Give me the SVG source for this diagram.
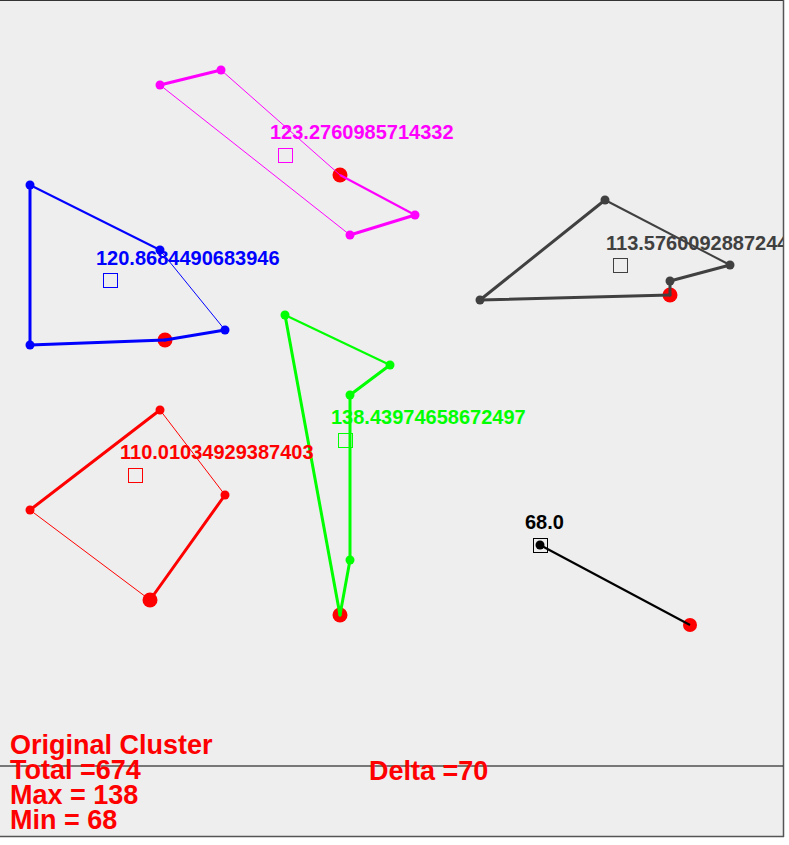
<svg xmlns="http://www.w3.org/2000/svg" width="789" height="845" viewBox="0 0 789 845">
<style>
.lbl{font-family:"Liberation Sans",Arial,sans-serif;font-weight:bold;font-size:20px}
.big{font-family:"Liberation Sans",Arial,sans-serif;font-weight:bold;font-size:27px;fill:#FF0000}
.t1{stroke-width:1;fill:none}
.t2{stroke-width:2;fill:none}
.t3{stroke-width:3;fill:none;stroke-linecap:round}
.sq{fill:none;stroke-width:1}
.hub{fill:#FF0000}
</style>
<defs>
<clipPath id="panel"><rect x="0" y="0" width="783" height="836"/></clipPath>
</defs>
<rect x="0" y="0" width="789" height="845" fill="#FFFFFF"/>
<rect x="0" y="0" width="783" height="836" fill="#EEEEEE"/>
<line x1="0" y1="0.5" x2="784" y2="0.5" stroke="#333333" stroke-width="1"/>
<line x1="783.5" y1="0" x2="783.5" y2="837" stroke="#555555" stroke-width="1.5"/>
<line x1="0" y1="836.5" x2="784" y2="836.5" stroke="#555555" stroke-width="1.5"/>
<line x1="0" y1="766" x2="783" y2="766" stroke="#000000" stroke-width="1"/>

<g clip-path="url(#panel)">
<g id="hubs">
<circle class="hub" cx="340" cy="175" r="7.5"/>
<circle class="hub" cx="165" cy="340" r="7.5"/>
<circle class="hub" cx="670" cy="295" r="7.5"/>
<circle class="hub" cx="340" cy="615" r="7.5"/>
<circle class="hub" cx="150" cy="600" r="7.5"/>
<circle class="hub" cx="690" cy="625" r="7"/>
</g>

<g id="connectors">
<g stroke="#FF00FF">
<line class="t3" x1="160" y1="85" x2="221" y2="70"/>
<line class="t1" x1="221" y1="70" x2="340" y2="175"/>
<line class="t2" x1="340" y1="175" x2="415" y2="215"/>
<line class="t3" x1="415" y1="215" x2="350" y2="235"/>
<line class="t1" x1="350" y1="235" x2="160" y2="85"/>
</g>
<g stroke="#0000FF">
<line class="t3" x1="30" y1="185" x2="30" y2="345"/>
<line class="t3" x1="30" y1="345" x2="165" y2="340"/>
<line class="t3" x1="165" y1="340" x2="225" y2="330"/>
<line class="t1" x1="225" y1="330" x2="160" y2="250"/>
<line class="t2" x1="160" y1="250" x2="30" y2="185"/>
</g>
<g stroke="#404040">
<line class="t3" x1="480" y1="300" x2="605" y2="200"/>
<line class="t2" x1="605" y1="200" x2="730" y2="265"/>
<line class="t3" x1="730" y1="265" x2="670" y2="281"/>
<line class="t3" x1="670" y1="281" x2="670" y2="295"/>
<line class="t3" x1="670" y1="295" x2="480" y2="300"/>
</g>
<g stroke="#00FF00">
<line class="t2" x1="285" y1="315" x2="390" y2="365"/>
<line class="t3" x1="390" y1="365" x2="350" y2="395"/>
<line class="t3" x1="350" y1="395" x2="350" y2="560"/>
<line class="t3" x1="350" y1="560" x2="340" y2="615"/>
<line class="t3" x1="340" y1="615" x2="285" y2="315"/>
</g>
<g stroke="#FF0000">
<line class="t3" x1="30" y1="510" x2="160" y2="410"/>
<line class="t1" x1="160" y1="410" x2="225" y2="495"/>
<line class="t3" x1="225" y1="495" x2="150" y2="600"/>
<line class="t1" x1="150" y1="600" x2="30" y2="510"/>
</g>
<g stroke="#000000">
<line class="t2" x1="540" y1="545" x2="690" y2="625"/>
</g>
</g>

<g id="cluster-magenta" fill="#FF00FF">
<circle cx="160" cy="85" r="4.5"/>
<circle cx="221" cy="70" r="4.5"/>
<circle cx="415" cy="215" r="4.5"/>
<circle cx="350" cy="235" r="4.5"/>
<rect class="sq" x="278.5" y="148.5" width="14" height="14" stroke="#FF00FF"/>
<text class="lbl" x="270" y="139">123.2760985714332</text>
</g>
<g id="cluster-blue" fill="#0000FF">
<circle cx="30" cy="185" r="4.5"/>
<circle cx="160" cy="250" r="4.5"/>
<circle cx="225" cy="330" r="4.5"/>
<circle cx="30" cy="345" r="4.5"/>
<rect class="sq" x="103.5" y="273.5" width="14" height="14" stroke="#0000FF"/>
<text class="lbl" x="96" y="265">120.8684490683946</text>
</g>
<g id="cluster-gray" fill="#404040">
<circle cx="605" cy="200" r="4.5"/>
<circle cx="730" cy="265" r="4.5"/>
<circle cx="670" cy="281" r="4.5"/>
<circle cx="480" cy="300" r="4.5"/>
<rect class="sq" x="613.5" y="258.5" width="14" height="14" stroke="#404040"/>
<text class="lbl" x="606" y="250">113.5760092887244</text>
</g>
<g id="cluster-green" fill="#00FF00">
<circle cx="285" cy="315" r="4.5"/>
<circle cx="390" cy="365" r="4.5"/>
<circle cx="350" cy="395" r="4.5"/>
<circle cx="350" cy="560" r="4.5"/>
<rect class="sq" x="338.5" y="433.5" width="14" height="14" stroke="#00FF00"/>
<text class="lbl" x="331" y="424">138.43974658672497</text>
</g>
<g id="cluster-red" fill="#FF0000">
<circle cx="160" cy="410" r="4.5"/>
<circle cx="225" cy="495" r="4.5"/>
<circle cx="30" cy="510" r="4.5"/>
<rect class="sq" x="128.5" y="468.5" width="14" height="14" stroke="#FF0000"/>
<text class="lbl" x="120" y="459">110.01034929387403</text>
</g>
<g id="cluster-black" fill="#000000">
<circle cx="540" cy="545" r="4.5"/>
<rect class="sq" x="533.5" y="538.5" width="14" height="14" stroke="#000000"/>
<text class="lbl" x="525" y="529">68.0</text>
</g>
</g>

<g id="summary">
<text class="big" x="10" y="754">Original Cluster</text>
<text class="big" x="10" y="779">Total =674</text>
<text class="big" x="10" y="804">Max = 138</text>
<text class="big" x="10" y="829">Min = 68</text>
<text class="big" x="369" y="780">Delta =70</text>
</g>
</svg>
